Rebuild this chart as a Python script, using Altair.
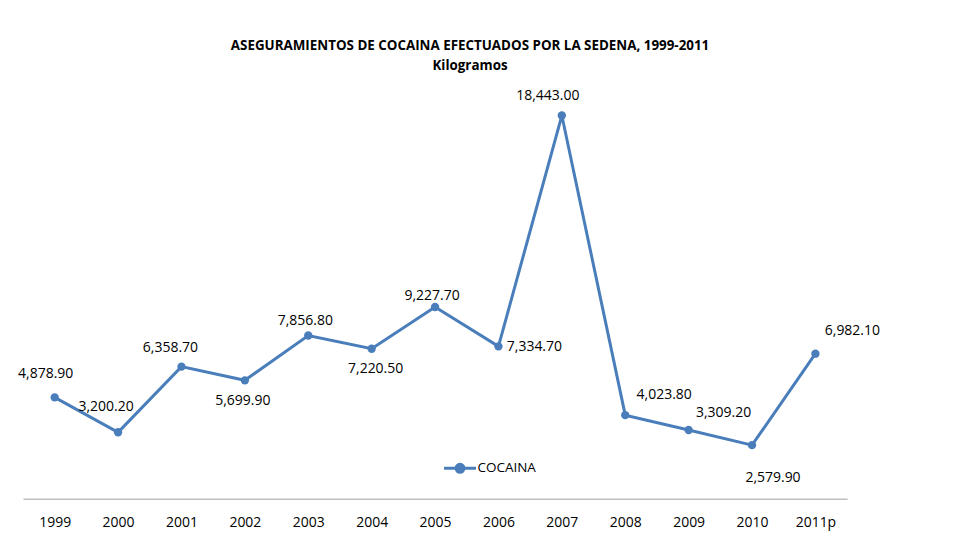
import altair as alt
import pandas as pd

years = ["1999", "2000", "2001", "2002", "2003", "2004", "2005", "2006",
         "2007", "2008", "2009", "2010", "2011p"]
values = [4878.90, 3200.20, 6358.70, 5699.90, 7856.80, 7220.50, 9227.70,
          7334.70, 18443.00, 4023.80, 3309.20, 2579.90, 6982.10]
series_name = "COCAINA"

# label offsets (style only)
label_dx = [-9, -12, -11, -2, -3, 4, -3, 36, -14, 39, 35, 21, 37]
label_dy = [-23, -25, -19, 21, -15, 20, -11, 1, -20, -20, -17, 33, -23]

df = pd.DataFrame({"anio": years, "valor": values, "serie": series_name})

BLUE = "#4a7ebb"
FONT = "Open Sans"

x = alt.X("anio:N", sort=years, title=None,
          axis=alt.Axis(labelAngle=0, ticks=False, grid=False, domainColor="#bfbfbf",
                        domainWidth=1.5, labelFont=FONT, labelFontSize=14,
                        labelColor="#000000", labelPadding=17))
y = alt.Y("valor:Q", scale=alt.Scale(domain=[0, 20000], nice=False), axis=None)
color = alt.Color("serie:N", scale=alt.Scale(range=[BLUE]),
                  legend=alt.Legend(title=None, orient="none", legendX=420, legendY=368,
                                    symbolType="M-1,0H1M-0.25,0a0.25,0.25 0 1,0 0.5,0a0.25,0.25 0 1,0 -0.5,0",
                                    symbolSize=1024, symbolStrokeWidth=3,
                                    symbolFillColor=BLUE, symbolStrokeColor=BLUE,
                                    labelFont=FONT, labelFontSize=13.5, labelColor="#000000",
                                    labelOffset=0))

base = alt.Chart(df)
line = base.mark_line(strokeWidth=3).encode(x=x, y=y, color=color)
pts = base.mark_point(filled=True, size=70, opacity=1).encode(x=x, y=y, color=color)

layers = [line, pts]
for i, yr in enumerate(years):
    layers.append(
        base.transform_filter(alt.datum.anio == yr)
        .mark_text(dx=label_dx[i], dy=label_dy[i], font=FONT, fontSize=14, color="#000000")
        .encode(x=x, y=y, text=alt.Text("valor:Q", format=",.2f"))
    )

chart = alt.layer(*layers).properties(
    width=825, height=416,
    title=alt.Title(
        text=["ASEGURAMIENTOS DE COCAINA EFECTUADOS POR LA SEDENA, 1999-2011", "Kilogramos"],
        font=FONT, fontSize=13.4, fontWeight="bold", color="#000000",
        anchor="middle", dx=35, offset=11, lineHeight=20,
    ),
    padding={"left": 15, "top": 75, "right": 115, "bottom": 40},
    autosize=alt.AutoSizeParams(type="none"),
    background="white",
).configure_view(strokeWidth=0, stroke=None)

chart.save("out.html", embed_options={"renderer": "svg", "actions": False})
